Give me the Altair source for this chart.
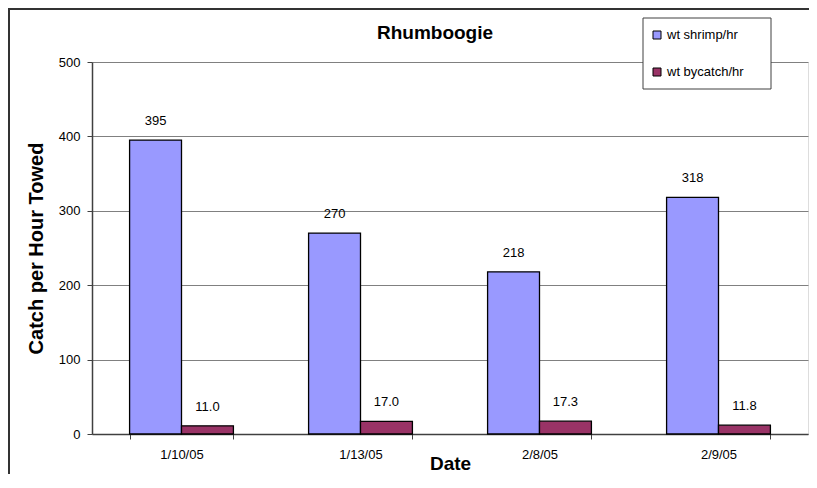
import altair as alt
import pandas as pd

title_text = "Rhumboogie"
dates = ["1/10/05", "1/13/05", "2/8/05", "2/9/05"]
series_names = ["wt shrimp/hr", "wt bycatch/hr"]
shrimp = [395, 270, 218, 318]
bycatch = [11.0, 17.0, 17.3, 11.8]
colors = ["#9999FF", "#993366"]
y_ticks = [0, 100, 200, 300, 400, 500]

rows = []
for i, d in enumerate(dates):
    rows.append({"date": d, "series": series_names[0], "value": shrimp[i], "label": f"{shrimp[i]:.0f}"})
    rows.append({"date": d, "series": series_names[1], "value": bycatch[i], "label": f"{bycatch[i]:.1f}"})
df = pd.DataFrame(rows)

FONT = "Liberation Sans, Arial, sans-serif"
W, H = 716, 372
PAD_BOTTOM = 40
DARK = "#404040"

color_enc = alt.Color("series:N", scale=alt.Scale(domain=series_names, range=colors), legend=None)

x_enc = alt.X(
    "date:N", sort=dates,
    scale=alt.Scale(paddingInner=0.42, paddingOuter=0.21),
    axis=alt.Axis(
        title="Date", labelAngle=0, tickBand="extent", grid=False,
        labelFont=FONT, labelFontSize=13, labelColor="black", labelPadding=9,
        tickSize=5, tickColor=DARK, domainColor=DARK, domainWidth=1.5,
        titleFont=FONT, titleFontSize=19, titleFontWeight="bold", titleColor="black",
        titleY=35, titleBaseline="alphabetic",
    ),
)
xoff = alt.XOffset("series:N", sort=series_names, scale=alt.Scale(paddingInner=0, paddingOuter=0))
y_enc = alt.Y(
    "value:Q",
    scale=alt.Scale(domain=[0, 500], nice=False),
    axis=alt.Axis(
        title="Catch per Hour Towed", values=y_ticks, grid=True, gridColor="#808080", gridWidth=1,
        labelFont=FONT, labelFontSize=13, labelColor="black", labelPadding=7,
        tickSize=5, tickColor=DARK, domainColor=DARK, domainWidth=1.5,
        titleFont=FONT, titleFontSize=20, titleFontWeight="bold", titleColor="black",
        titleX=-56, titleY=H / 2, titleAngle=-90, titleBaseline="middle", titleAlign="center",
    ),
)

base = alt.Chart(df)
bars = base.mark_bar(stroke="black", strokeWidth=1.3).encode(
    x=x_enc, xOffset=xoff, y=y_enc, color=color_enc
)
labels = base.mark_text(font=FONT, fontSize=13, color="black", baseline="alphabetic", dy=-15).encode(
    x=alt.X("date:N", sort=dates), xOffset=xoff, y="value:Q", text="label:N"
)

one = pd.DataFrame({"k": [0]})
title = alt.Chart(pd.DataFrame({"t": [title_text]})).mark_text(
    font=FONT, fontSize=19, fontWeight="bold", color="black", align="center", baseline="alphabetic"
).encode(x=alt.value(W / 2 - 15), y=alt.value(-23), text="t:N")

box = alt.Chart(one).mark_rect(fill="white", stroke=DARK, strokeWidth=1).encode(
    x=alt.value(551), x2=alt.value(679), y=alt.value(-44), y2=alt.value(27)
)
leg_layers = []
for i, name in enumerate(series_names):
    ldf = pd.DataFrame({"series": [name]})
    yy = -27 + 37 * i
    leg_layers.append(
        alt.Chart(ldf).mark_square(size=64, stroke="black", strokeWidth=1, opacity=1).encode(
            x=alt.value(565), y=alt.value(yy), color=color_enc
        )
    )
    leg_layers.append(
        alt.Chart(ldf).mark_text(font=FONT, fontSize=13, color="black", align="left", baseline="middle").encode(
            x=alt.value(575), y=alt.value(yy), text="series:N"
        )
    )

# outer chart frame (its right and bottom edges fall outside the picture, as in the reference)
frame = alt.Chart(one).mark_rect(fill=None, fillOpacity=0, stroke="#333333", strokeWidth=2).encode(
    x=alt.value(-83), x2=alt.value(W + 40), y=alt.value(-53), y2=alt.value(H + PAD_BOTTOM + 40)
)

chart = alt.layer(bars, labels, title, box, *leg_layers, frame).properties(
    width=W, height=H,
    autosize=alt.AutoSizeParams(type="none"),
    padding={"left": 84, "top": 54, "right": 1, "bottom": PAD_BOTTOM},
).configure_view(stroke="#808080", strokeWidth=1).configure(background="white")

chart.save("out.html", embed_options={"renderer": "svg", "actions": False})
